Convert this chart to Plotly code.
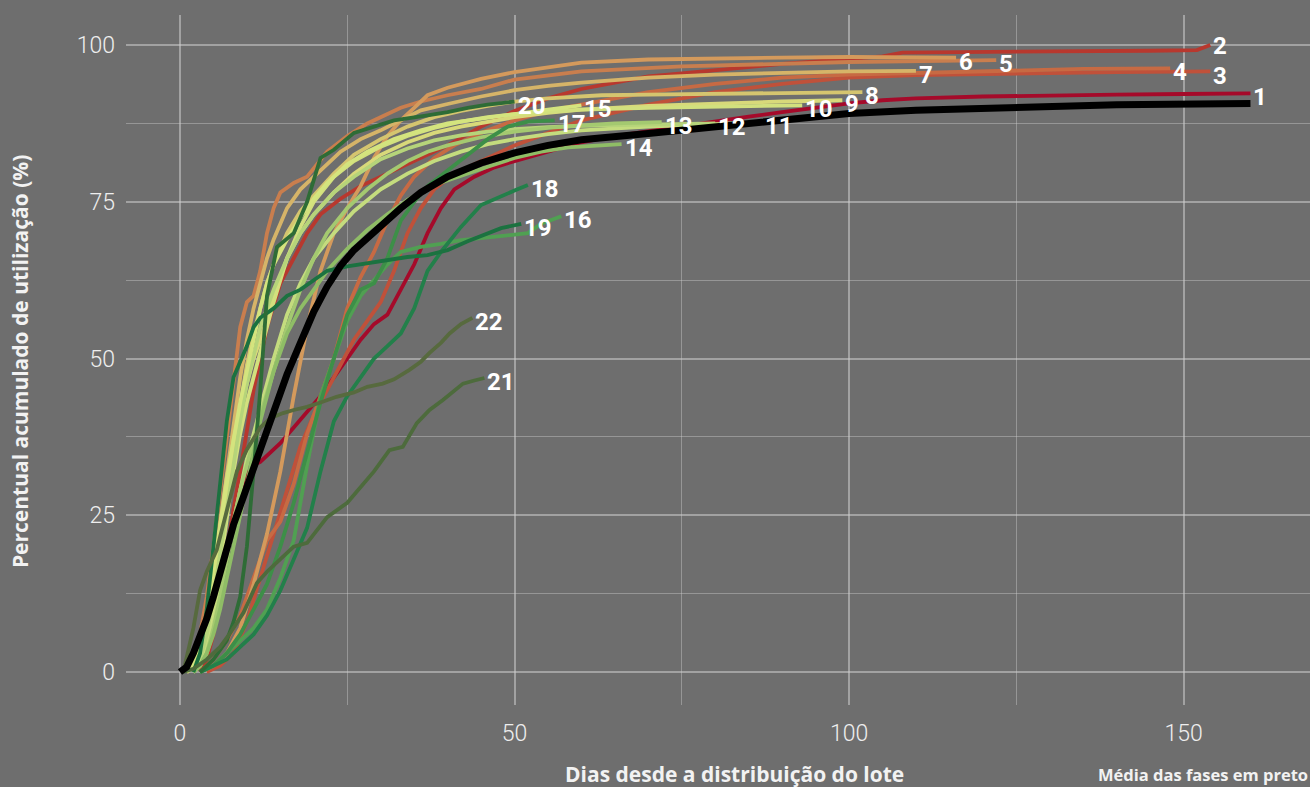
import plotly.graph_objects as go

# ---------------- data ----------------
media_dias = [0,1,2,3,4,5,6,7,8,9,10,12,14,16,18,20,22,24,26,28,30,33,36,40,45,50,55,60,70,80,90,100,110,125,140,160]
media_pct = [0,0.8,3,5.5,8.5,12,16,20,23.5,26.5,29.5,35.5,42,47.5,52.5,57.5,61.5,64.8,67.3,69.2,71.2,74,76.5,79,81.2,82.8,84,84.9,85.9,86.9,88,89.1,89.6,90.1,90.5,90.7]

f1_dias = [2,4,5,6,7,8,9,10,11,12,13,15,17,19,21,23,25,27,29,31,33,35,37,39,41,44,47,50,55,60,65,70,75,80,85,90,95,100,105,110,120,130,140,150,160]
f1_pct = [0,3,8,14,20,25,29,31.5,33,33.5,34.5,36.5,39,41.5,44,47,50,53,55.5,57,61,65,70,74,77,79,80.5,81.5,83,84.5,85.5,86.3,87,87.8,88.6,89.3,90,90.7,91.2,91.5,91.8,92,92.1,92.2,92.3]

f2_dias = [3,4,5,6,7,8,9,10,11,12,13,14,15,17,19,21,24,27,30,33,36,40,45,50,55,60,65,70,75,80,90,100,105,108,115,130,145,152,154]
f2_pct = [0,2,6,12,19,26,32,39,45,50,55,58.5,62,66,70,73,75.5,77.5,79,80.5,82,84,87,89.5,91.5,93,94,95,95.5,96,97,97.8,98.2,98.8,98.9,99,99.1,99.2,100]

f3_dias = [4,6,8,10,12,14,16,18,20,22,24,26,28,30,32,34,36,38,41,44,47,50,55,60,70,80,90,100,110,125,140,154]
f3_pct = [0,1,3,8,15,22,29,36,41,45,49,53,56,59,64,70,74,77,79.5,81,82.5,84,86,88,90.5,92.5,93.8,94.8,95.2,95.5,95.7,95.8]

f4_dias = [3,5,7,9,11,13,15,17,19,21,23,25,27,29,31,33,35,38,41,45,50,55,60,70,80,90,100,110,125,135,148]
f4_pct = [0,2,5,9,15,21,24,30,38,44,50,58,63,67,72,76,79,82,84,86,88,89.5,90.5,92.5,93.8,94.8,95.3,95.6,96,96.2,96.3]

f5_dias = [1,2,3,4,5,6,7,8,9,10,11,12,13,14,15,17,19,22,25,28,33,36,40,45,50,60,75,100,122]
f5_pct = [0,2,6,12,20,29,38,47,55,59,60,64,70,74,76.5,78,79,83,85.5,87.5,90,91,92,93,94.5,95.8,96.6,97.3,97.6]

f6_dias = [3,5,7,9,11,13,15,17,19,21,23,25,27,29,31,33,35,37,40,45,50,55,60,70,80,90,100,116]
f6_pct = [0,1,3,7,14,22,32,44,55,64,70,74,77.5,82,85.5,88,90,92,93.2,94.6,95.7,96.5,97.2,97.7,97.9,98,98.1,98]

f7_dias = [1,2,3,4,5,6,7,8,9,10,11,12,13,14,15,16,18,21,24,27,30,33,36,40,45,50,55,60,70,80,90,100,110]
f7_pct = [0,1,4,9,16,24,32,40,47,53,58,62,66,69,71.6,74,77,80,83,85,86.4,88,89.6,90.6,91.8,92.8,93.5,94,94.8,95.3,95.6,95.8,95.9]

f8_dias = [1,2,3,4,5,6,7,8,9,10,11,12,13,14,16,18,20,23,26,30,34,38,42,46,50,55,63,70,80,90,102]
f8_pct = [0,1,3,7,13,20,28,36,43,49,54,58,62,65,70,73.5,76,79.5,82.5,85,87,88.5,89.5,90.3,91,91.5,92,92.1,92.2,92.3,92.5]

f9_dias = [1,2,3,4,5,6,7,8,9,10,11,12,14,16,18,20,23,26,30,34,38,42,46,50,55,60,70,80,90,99]
f9_pct = [0,1,4,9,16,24,31,37,42,46,50,53,60,66,70,73,76.5,79.5,82.5,84.5,86,87,87.8,88.5,89.2,89.7,90.3,90.7,91,91.2]

f10_dias = [2,3,4,5,6,7,8,9,10,11,12,14,16,18,20,23,26,30,34,38,42,46,50,55,60,70,80,93]
f10_pct = [0,2,5,10,17,25,32,38,43,47,51,59,66,71,75,79,81.5,83.8,85.5,86.8,87.8,88.5,89,89.4,89.7,90,90.2,90.4]

f11_dias = [2,3,4,5,6,7,8,9,10,12,14,16,18,20,23,26,30,34,38,42,46,50,55,60,70,80,87]
f11_pct = [0,1,4,8,13,18,24,29,34,42,50,57,62,66,70,73.5,77,79.5,81.5,83,84.2,85,85.8,86.4,87,87.4,87.7]

f12_dias = [2,3,4,5,6,7,8,9,10,12,14,16,18,20,23,26,30,34,38,42,46,50,55,60,70,80]
f12_pct = [0,2,6,12,19,26,33,40,46,55,61,66,70,73,76.5,79,81.8,83.5,84.8,85.6,86.2,86.6,86.9,87.1,87.3,87.5]

f13_dias = [2,3,4,5,6,7,8,9,10,11,12,14,16,18,20,22,25,28,31,34,37,40,45,50,55,60,65,72]
f13_pct = [0,1,3,7,12,18,24,29,33,37,41,48,55,61,66,70,74,77,79.5,81.5,83,84,85.3,86.2,86.8,87.2,87.5,87.7]

f14_dias = [2,3,4,5,6,7,8,9,10,11,12,14,16,18,20,22,25,28,31,34,38,42,46,50,54,58,62,66]
f14_pct = [0,1,3,6,10,15,20,25,30,35,40,48,54,58,61,64,67.5,70.5,73,75.3,77.7,79.2,80.6,82,83,83.7,84,84.2]

f15_dias = [1,2,3,4,5,6,7,8,9,10,11,12,13,14,16,18,20,22,25,28,32,36,40,45,50,55,60]
f15_pct = [0,1,4,9,16,23,30,37,43,48,53,58,62,65,69,72.5,75.5,78,81,83,85,86.4,87.5,88.3,89,89.7,90.4]

f16_dias = [3,5,7,9,11,13,15,17,19,21,23,25,27,29,31,33,36,39,42,45,48,52,54,57]
f16_pct = [0,1,3,5,7,10,15,21,33,44,50,56,60,62.5,65,67,67.8,68.3,68.9,69.2,69.6,70,71.5,72.7]

f17_dias = [3,5,7,9,11,13,15,17,19,21,23,25,27,29,31,33,35,37,40,43,46,49,52,56]
f17_pct = [0,1,3,6,10,14,20,27,35,43,50,57,61,62,66,72,75,77.5,80,82.5,85,87,87.8,88]

f18_dias = [3,5,7,9,11,13,15,17,19,21,23,25,27,29,31,33,35,37,39,42,45,48,50,52]
f18_pct = [0,1,2,4,6,9,13,18,23,32,40,44,47,50,52,54,58,64,67,71,74.5,75.8,76.8,77.7]

f19_dias = [2,3,4,5,6,7,8,9,10,11,12,14,16,18,20,22,25,28,31,34,37,40,43,46,48,51]
f19_pct = [0,3,10,20,31,40,47,49.5,52,55,56.5,58,60,61,62.5,64,64.7,65.2,65.7,66.2,66.5,67.3,68.7,70,70.8,71.5]

f20_dias = [3,5,7,8,9,10,11,12,13,14.5,17,19,21,23,26,29,32,37,40,43,46,50]
f20_pct = [0,2,5,8,12,20,32,45,60,67.8,70,75,82,83.3,86,87,88,88.8,89.3,90,90.5,91]

f21_dias = [0.5,2,4,6,7.5,9.5,11.5,13,15,17,19,22,25,27.4,29,31.3,33.3,35.4,37.3,39.3,42.3,44,45.5]
f21_pct = [0,0.5,2,4,6.2,9.5,14.2,16,18,20,20.6,24.7,27,30,32,35.4,35.9,39.7,41.8,43.4,46,46.5,46.9]

f22_dias = [0.5,2,3,4,5.5,7,8.5,10,12,13.5,15.4,17,19,21,23.4,26,28,30.3,32,34.3,36,37.3,39,40.3,42,43.7]
f22_pct = [0,7,13,16,19.5,26,32,35.5,39,40.5,41.3,41.8,42.3,43,43.9,44.6,45.5,46,46.7,48.2,49.5,50.9,52.5,54,55.5,56.5]

fases = ["1","2","3","4","5","6","7","8","9","10","11","12","13","14","15","16","17","18","19","20","21","22"]
dias = [f1_dias,f2_dias,f3_dias,f4_dias,f5_dias,f6_dias,f7_dias,f8_dias,f9_dias,f10_dias,f11_dias,
        f12_dias,f13_dias,f14_dias,f15_dias,f16_dias,f17_dias,f18_dias,f19_dias,f20_dias,f21_dias,f22_dias]
pcts = [f1_pct,f2_pct,f3_pct,f4_pct,f5_pct,f6_pct,f7_pct,f8_pct,f9_pct,f10_pct,f11_pct,
        f12_pct,f13_pct,f14_pct,f15_pct,f16_pct,f17_pct,f18_pct,f19_pct,f20_pct,f21_pct,f22_pct]

cores = ["#a50a2a","#b8382e","#c0513a","#c76a43","#c97e4e","#d49a5c","#d6b468","#d5c56f",
         "#d8d97a","#d2e07e","#c4dc7e","#b6d47a","#a4c970","#8fbd66","#d4e47e","#50a052",
         "#3d8f48","#22804a","#1b7240","#2e6c36","#4d6b3c","#576a3e"]

# ---------------- figure ----------------
FONT = "Roboto"
TFONT = "Open Sans"
fig = go.Figure()

for nome, x, y, c in zip(fases, dias, pcts, cores):
    fig.add_trace(go.Scatter(x=x, y=y, mode="lines", line=dict(color=c, width=3.8),
                             hoverinfo="skip", showlegend=False))

fig.add_trace(go.Scatter(x=media_dias, y=media_pct, mode="lines",
                         line=dict(color="#000000", width=7), showlegend=False))

for nome, x, y in zip(fases, dias, pcts):
    dy = -1 if nome == "2" else (-5 if nome == "3" else -4)
    fig.add_annotation(x=x[-1], y=y[-1], text=nome, showarrow=False,
                       xanchor="left", yanchor="middle", xshift=2, yshift=dy, borderpad=0,
                       font=dict(family=FONT, size=24, color="#ffffff", weight="bold"))

fig.add_annotation(x=0.514, y=-0.100, xref="paper", yref="paper",
                   text="Dias desde a distribuição do lote", showarrow=False,
                   xanchor="center", yanchor="middle",
                   font=dict(family=TFONT, size=21, color="#f2f2f2", weight="bold"))
fig.add_annotation(x=1.0, y=-0.100, xref="paper", yref="paper",
                   text="Média das fases em preto", showarrow=False,
                   xanchor="right", yanchor="middle",
                   font=dict(family=TFONT, size=16.5, color="#f2f2f2", weight="bold"))
fig.add_annotation(x=-0.0895, y=0.497, xref="paper", yref="paper",
                   text="Percentual acumulado de utilização (%)", showarrow=False,
                   textangle=-90, xanchor="center", yanchor="middle",
                   font=dict(family=TFONT, size=21, color="#f2f2f2", weight="bold"))

grid_major = "rgba(205,205,205,0.55)"
grid_minor = "rgba(205,205,205,0.42)"

fig.update_xaxes(range=[-8.07, 168.9], tickvals=[0, 50, 100, 150], ticktext=["0", "50", "100", "150"],
                 showgrid=True, gridcolor=grid_major, gridwidth=2, zeroline=False, showline=False,
                 ticks="", ticklabelstandoff=12,
                 minor=dict(tickvals=[25, 75, 125], showgrid=True, gridcolor=grid_minor, gridwidth=1),
                 tickfont=dict(family=FONT, size=23, color="#eeeeee", weight=300))
fig.update_yaxes(range=[-5.26, 104.8], tickvals=[0, 25, 50, 75, 100],
                 showgrid=True, gridcolor=grid_major, gridwidth=2, zeroline=False, showline=False,
                 ticks="", ticklabelstandoff=10,
                 minor=dict(tickvals=[12.5, 37.5, 62.5, 87.5], showgrid=True, gridcolor=grid_minor, gridwidth=1),
                 tickfont=dict(family=FONT, size=23, color="#eeeeee", weight=300))

fig.update_layout(width=1310, height=787, paper_bgcolor="#6e6e6e", plot_bgcolor="#6e6e6e",
                  margin=dict(l=126, r=0, t=15, b=82), showlegend=False)

fig.write_html("out.html", config={"displayModeBar": False},
               post_script="document.body.style.margin='0';document.body.style.background='#6e6e6e';")
